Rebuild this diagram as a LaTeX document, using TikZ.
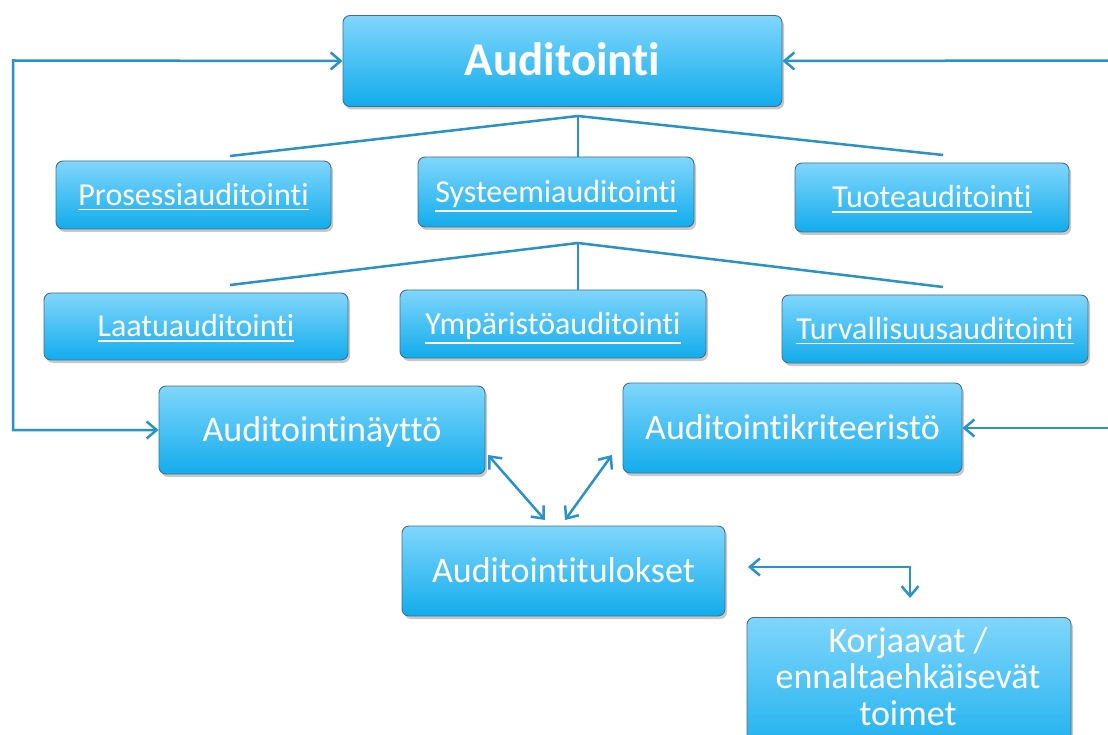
\documentclass[tikz,border=0pt]{standalone}
\usepackage{fontspec}
\setmainfont{Carlito}[RawFeature={-liga;-clig;-dlig}]
\usetikzlibrary{arrows.meta,shadows}
\definecolor{boxtop}{RGB}{128,214,252}
\definecolor{boxbot}{RGB}{18,172,236}
\definecolor{boxedge}{RGB}{70,112,138}
\definecolor{conn}{RGB}{41,146,199}
\newcommand\myul[1]{\leavevmode\vtop{\hbox{#1}\kern 3pt\hrule height 1.7pt}}
\tikzset{
  bluebox/.style={rectangle, rounded corners=7pt, draw=boxedge, line width=0.9pt,
    top color=boxtop, bottom color=boxbot, text=white, inner sep=0pt,
    drop shadow={shadow xshift=2pt, shadow yshift=-3pt, opacity=0.3, fill=black!70}},
  subbox/.style={bluebox, font=\fontsize{32}{36}\selectfont, text height=20.6pt, text depth=0pt},
  mainbox/.style={bluebox, font=\fontsize{36}{37}\selectfont, text height=23.2pt, text depth=0pt},
  conline/.style={draw=conn, line width=2.5pt},
  barb/.tip={Straight Barb[length=10pt,width=17pt,line width=2.5pt]},
  conarrow/.style={conline, arrows={barb-barb}},
  conto/.style={conline, arrows={-barb}},
}
\begin{document}
\begin{tikzpicture}[x=1pt,y=-1pt]
\useasboundingbox (0,0) rectangle (1108,735);
\fill[white] (0,0) rectangle (1108,735);

% main box
\node[bluebox, font=\fontsize{47}{50}\selectfont\bfseries, text height=30pt, text depth=0pt, minimum width=439pt, minimum height=91pt] (aud) at (562.5,61) {Auditointi};

% first level
\node[subbox, minimum width=275pt, minimum height=68pt] (pro) at (193.5,195) {\myul{Prosessiauditointi}};
\node[subbox, minimum width=276pt, minimum height=70pt] (sys) at (556,192) {\myul{Systeemiauditointi}};
\node[subbox, minimum width=274pt, minimum height=69pt] (tuo) at (932,197.5) {\myul{Tuoteauditointi}};

% second level
\node[subbox, minimum width=304pt, minimum height=67pt] (laa) at (196,326.5) {\myul{Laatuauditointi}};
\node[subbox, minimum width=306pt, minimum height=68pt] (ymp) at (553,324) {\myul{Ympäristöauditointi}};
\node[subbox, minimum width=306pt, minimum height=68pt] (tur) at (935,329) {\myul{Turvallisuusauditointi}};

% lower boxes
\node[mainbox, minimum width=326pt, minimum height=88pt] (nay) at (322,430) {Auditointinäyttö};
\node[mainbox, minimum width=339pt, minimum height=90pt] (kri) at (792.5,428) {Auditointikriteeristö};
\node[mainbox, minimum width=323pt, minimum height=90pt] (tul) at (563.5,571) {Auditointitulokset};
\node[bluebox, minimum width=324pt, minimum height=150pt, anchor=north] (kor) at (909,617) {};
\node[text=white, font=\fontsize{36}{36.5}\selectfont, align=center, anchor=base, inner sep=0pt] (kortext) at (908,725) {Korjaavat /\\ennaltaehkäisevät\\toimet};

% fan connectors
\coordinate (j1) at (578,116);
\coordinate (f1l) at (230,156);
\coordinate (f1r) at (943,155);
\draw[conline] (f1l) -- (j1) -- (f1r);
\draw[conline] (j1) -- (sys.north -| j1);
\coordinate (j2) at (578,243);
\coordinate (f2l) at (230,285);
\coordinate (f2r) at (943,287);
\draw[conline] (f2l) -- (j2) -- (f2r);
\draw[conline] (j2) -- (ymp.north -| j2);

% left loop
\coordinate (L1) at (13,60.5);
\coordinate (L2) at (13,430);
\draw[conarrow] (aud.west) -- (L1) -- (L2) -- (nay.west);

% right inputs
\coordinate (R1) at (1112,60.5);
\coordinate (R2) at (1112,428);
\draw[conto] (R1) -- (aud.east);
\draw[conto] (R2) -- (kri.east);

% double arrows to results
\coordinate (a1) at (488,455);
\coordinate (a2) at (545,520);
\coordinate (b1) at (612,455);
\coordinate (b2) at (565,520);
\draw[conarrow] (a1) -- (a2);
\draw[conarrow] (b1) -- (b2);

% results to corrective actions
\coordinate (c1) at (748,567);
\coordinate (c2) at (910,567);
\coordinate (c3) at (910,598);
\draw[conarrow] (c1) -- (c2) -- (c3);
\end{tikzpicture}
\end{document}
